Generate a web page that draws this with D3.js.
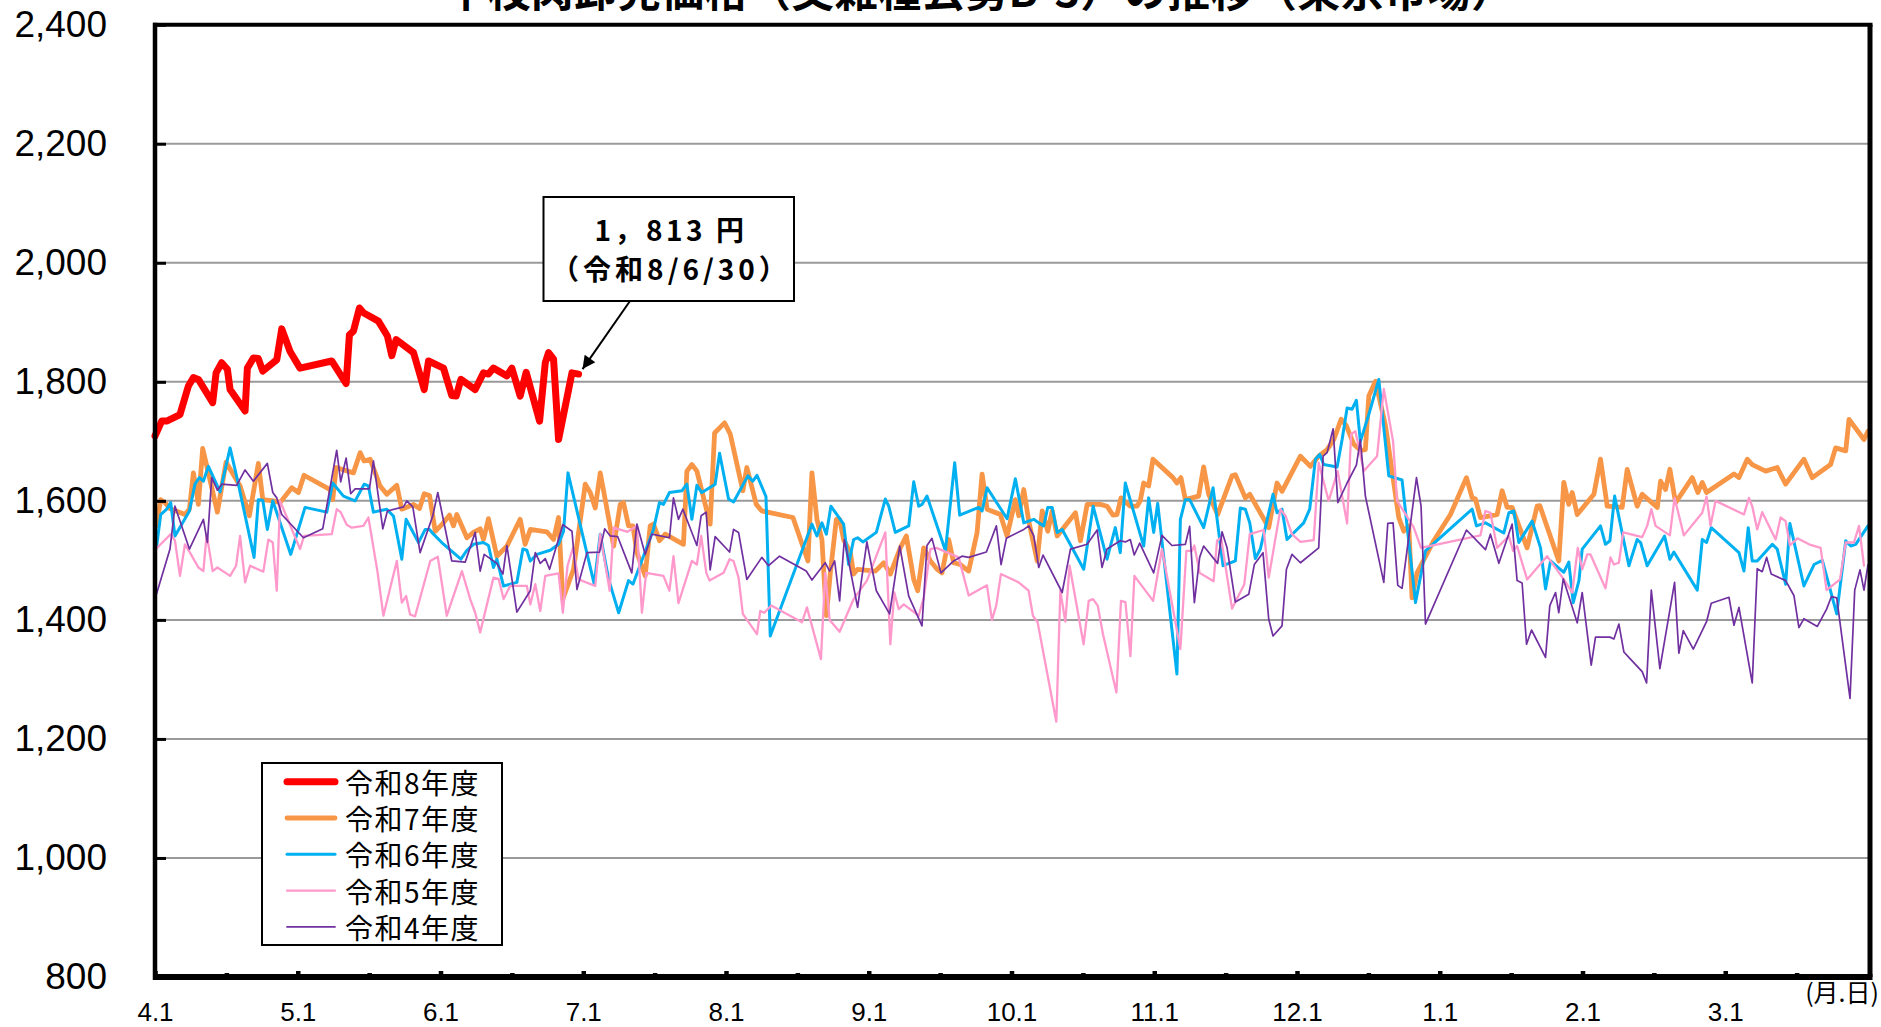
<!DOCTYPE html>
<html>
<head>
<meta charset="utf-8">
<title>牛枝肉卸売価格の推移</title>
<script src="https://cdn.jsdelivr.net/npm/d3@7"></script>
<style>
  body { margin: 0; background: #fff; }
  svg { display: block; }
  .jp { font-family: "Noto Sans CJK JP", "Noto Sans", sans-serif; }
</style>
</head>
<body>
<script>
// x軸ラベル（月.日）と y軸目盛
var monthLabels = ["4.1","5.1","6.1","7.1","8.1","9.1","10.1","11.1","12.1","1.1","2.1","3.1"];
var yTicks = [800,1000,1200,1400,1600,1800,2000,2200,2400];
var seriesNames = ["令和8年度","令和7年度","令和6年度","令和5年度","令和4年度"];

// [4/1からの経過月, 円]
var r8 = [[0,1709],[0.047,1734],[0.082,1734],[0.175,1745],[0.234,1793],[0.269,1807],[0.304,1804],[0.404,1765],[0.428,1815],[0.467,1832],[0.507,1821],[0.526,1787],[0.631,1751],[0.647,1823],[0.689,1840],[0.724,1839],[0.755,1818],[0.853,1837],[0.888,1889],[0.946,1851],[1.016,1823],[1.238,1835],[1.339,1797],[1.362,1879],[1.39,1885],[1.432,1924],[1.46,1916],[1.565,1902],[1.628,1877],[1.659,1844],[1.689,1871],[1.811,1849],[1.886,1787],[1.916,1835],[2.021,1823],[2.079,1777],[2.11,1776],[2.143,1804],[2.243,1787],[2.301,1815],[2.336,1813],[2.371,1823],[2.465,1810],[2.5,1823],[2.558,1776],[2.6,1816],[2.694,1734],[2.734,1832],[2.757,1849],[2.792,1838],[2.827,1703],[2.921,1815],[2.967,1813]];

var r7 = [[0.01,1558],[0.04,1602],[0.07,1597],[0.105,1587],[0.21,1577],[0.241,1586],[0.269,1647],[0.304,1594],[0.334,1688],[0.374,1647],[0.437,1581],[0.498,1665],[0.596,1625],[0.661,1575],[0.724,1663],[0.755,1602],[0.829,1600],[0.876,1597],[0.958,1622],[1.005,1614],[1.044,1643],[1.227,1619],[1.245,1602],[1.269,1656],[1.39,1647],[1.437,1681],[1.465,1667],[1.507,1670],[1.577,1625],[1.624,1611],[1.694,1626],[1.729,1586],[1.811,1594],[1.853,1587],[1.886,1612],[1.923,1609],[1.963,1549],[2.009,1560],[2.063,1576],[2.091,1558],[2.114,1577],[2.185,1538],[2.231,1547],[2.278,1553],[2.301,1535],[2.336,1570],[2.395,1507],[2.465,1524],[2.558,1569],[2.593,1527],[2.629,1552],[2.745,1548],[2.792,1535],[2.827,1572],[2.857,1435],[2.932,1485],[3.014,1628],[3.049,1614],[3.084,1588],[3.119,1647],[3.154,1602],[3.213,1524],
  [3.259,1594],[3.282,1597],[3.317,1558],[3.348,1558],[3.376,1513],[3.434,1474],[3.469,1558],[3.492,1561],[3.534,1533],[3.574,1544],[3.702,1527],[3.726,1650],[3.761,1661],[3.796,1650],[3.889,1561],[3.92,1714],[3.99,1731],[4.03,1712],[4.118,1617],[4.146,1656],[4.212,1594],[4.251,1583],[4.469,1572],[4.574,1499],[4.602,1647],[4.637,1569],[4.672,1535],[4.703,1407],[4.731,1479],[4.773,1569],[4.796,1569],[4.824,1535],[4.871,1513],[4.894,1477],[4.922,1485],[5.046,1482],[5.105,1496],[5.151,1477],[5.221,1521],[5.263,1541],[5.291,1502],[5.315,1468],[5.343,1449],[5.385,1521],[5.432,1499],[5.479,1485],[5.513,1479],[5.56,1535],[5.595,1496],[5.642,1493],[5.7,1482],[5.759,1547],[5.794,1645],[5.829,1586],[5.922,1577],[5.969,1541],[6.027,1602],[6.051,1575],[6.086,1619],[6.121,1566],[6.18,1499],[6.215,1583],[6.254,1549],[6.285,1583],[6.32,1541],[6.448,1580],[6.483,1533],[6.53,1594],
  [6.622,1594],[6.669,1591],[6.711,1576],[6.739,1577],[6.767,1605],[6.832,1591],[6.879,1591],[6.902,1600],[6.926,1630],[6.961,1625],[6.991,1670],[7.131,1639],[7.159,1630],[7.187,1639],[7.218,1602],[7.311,1608],[7.346,1657],[7.381,1611],[7.444,1577],[7.545,1642],[7.568,1644],[7.638,1605],[7.669,1611],[7.802,1555],[7.86,1630],[7.895,1616],[8.024,1675],[8.094,1658],[8.152,1675],[8.211,1686],[8.258,1703],[8.309,1737],[8.346,1726],[8.398,1695],[8.444,1685],[8.479,1686],[8.503,1776],[8.55,1801],[8.62,1726],[8.678,1630],[8.713,1572],[8.748,1549],[8.783,1558],[8.806,1437],[8.841,1479],[8.958,1533],
  [9.075,1577],[9.187,1639],[9.227,1605],[9.25,1603],[9.285,1572],[9.402,1577],[9.437,1617],[9.472,1589],[9.507,1589],[9.612,1521],[9.682,1591],[9.701,1592],[9.834,1499],[9.869,1631],[9.904,1594],[9.928,1614],[9.963,1577],[10.08,1611],[10.126,1670],[10.173,1591],[10.278,1589],[10.313,1653],[10.383,1591],[10.418,1611],[10.524,1589],[10.547,1633],[10.582,1619],[10.612,1653],[10.652,1597],[10.769,1639],[10.808,1614],[10.839,1631],[10.869,1614],[11.061,1645],[11.096,1639],[11.154,1670],[11.189,1661],[11.283,1650],[11.364,1656],[11.423,1628],[11.551,1670],[11.61,1639],[11.738,1661],[11.773,1689],[11.844,1684],[11.867,1737],[11.972,1703],[12,1717]];

var r6 = [[0.01,1521],[0.04,1577],[0.082,1586],[0.11,1597],[0.14,1541],[0.241,1583],[0.28,1628],[0.311,1639],[0.339,1633],[0.374,1658],[0.456,1615],[0.526,1689],[0.584,1628],[0.694,1505],[0.724,1602],[0.755,1601],[0.787,1552],[0.825,1600],[0.951,1510],[1.051,1589],[1.203,1581],[1.245,1630],[1.32,1608],[1.402,1600],[1.465,1628],[1.495,1625],[1.53,1581],[1.624,1586],[1.671,1574],[1.729,1502],[1.759,1569],[1.846,1530],[1.893,1552],[1.923,1552],[1.951,1544],[2.009,1530],[2.143,1502],[2.185,1517],[2.231,1527],[2.301,1530],[2.336,1525],[2.371,1488],[2.395,1502],[2.441,1457],[2.535,1463],[2.577,1519],[2.605,1517],[2.629,1499],[2.675,1510],[2.769,1517],[2.827,1527],[2.862,1549],[2.893,1647],[3.077,1460],[3.119,1544],[3.178,1468],[3.248,1412],
  [3.317,1466],[3.348,1460],[3.492,1552],[3.534,1597],[3.562,1594],[3.604,1614],[3.691,1617],[3.726,1628],[3.761,1569],[3.796,1626],[3.831,1614],[3.924,1628],[3.955,1680],[4.018,1603],[4.053,1598],[4.153,1642],[4.188,1633],[4.217,1643],[4.28,1607],[4.31,1373],[4.602,1561],[4.637,1541],[4.672,1563],[4.703,1544],[4.735,1591],[4.824,1561],[4.859,1493],[4.894,1535],[4.922,1538],[4.959,1531],[5.053,1547],[5.116,1603],[5.14,1591],[5.186,1547],[5.28,1558],[5.315,1632],[5.35,1591],[5.373,1594],[5.408,1608],[5.537,1516],[5.602,1664],[5.637,1576],[5.77,1589],[5.794,1583],[5.829,1622],[5.969,1570],[6.027,1637],[6.086,1563],[6.121,1566],[6.156,1569],[6.191,1563],[6.226,1558],[6.254,1589],[6.285,1589],[6.32,1547],[6.355,1552],[6.506,1485],[6.572,1591],
  [6.669,1502],[6.727,1555],[6.762,1513],[6.797,1630],[6.926,1524],[6.961,1605],[6.996,1547],[7.024,1596],[7.159,1309],[7.183,1569],[7.218,1602],[7.248,1602],[7.346,1555],[7.412,1622],[7.482,1491],[7.568,1499],[7.603,1588],[7.638,1586],[7.669,1563],[7.708,1503],[7.743,1519],[7.832,1611],[7.86,1580],[7.895,1586],[7.93,1535],[8.047,1563],[8.089,1586],[8.129,1670],[8.159,1678],[8.187,1661],[8.281,1657],[8.316,1703],[8.351,1756],[8.386,1754],[8.416,1769],[8.444,1700],[8.503,1745],[8.573,1804],[8.643,1642],[8.736,1635],[8.83,1429],[8.9,1516],
  [9.227,1586],[9.257,1558],[9.32,1563],[9.449,1546],[9.484,1580],[9.519,1583],[9.554,1530],[9.647,1566],[9.706,1521],[9.741,1452],[9.776,1499],[9.869,1480],[9.904,1497],[9.935,1429],[9.975,1466],[9.998,1519],[10.126,1558],[10.161,1527],[10.192,1533],[10.225,1608],[10.325,1491],[10.383,1535],[10.407,1530],[10.453,1491],[10.575,1541],[10.612,1502],[10.64,1514],[10.804,1450],[10.839,1535],[10.869,1530],[10.902,1555],[11.096,1513],[11.131,1482],[11.161,1555],[11.189,1499],[11.224,1499],[11.33,1527],[11.364,1519],[11.423,1460],[11.453,1562],[11.551,1457],[11.622,1493],[11.68,1500],[11.781,1410],[11.844,1533],[11.879,1524],[11.914,1527],[12,1558]];

var r5 = [[0.01,1520],[0.11,1544],[0.14,1533],[0.175,1474],[0.21,1527],[0.245,1513],[0.304,1488],[0.339,1482],[0.362,1544],[0.404,1482],[0.437,1488],[0.526,1474],[0.568,1491],[0.596,1541],[0.631,1463],[0.666,1491],[0.759,1481],[0.794,1535],[0.825,1530],[0.853,1449],[0.876,1600],[1.016,1519],[1.044,1541],[1.238,1544],[1.273,1586],[1.301,1581],[1.343,1560],[1.379,1555],[1.46,1558],[1.495,1572],[1.558,1482],[1.6,1407],[1.694,1499],[1.729,1429],[1.759,1440],[1.787,1409],[1.822,1406],[1.928,1499],[1.981,1506],[2.044,1407],[2.15,1482],[2.208,1435],[2.243,1412],[2.278,1379],[2.371,1471],[2.407,1469],[2.442,1435],[2.488,1457],[2.605,1457],[2.629,1426],[2.664,1460],[2.699,1415],[2.734,1474],[2.827,1478],[2.857,1412],[2.89,1491],[2.928,1521],[2.967,1468],[3.084,1457],[3.119,1544],[3.185,1449],[3.213,1555],
  [3.31,1548],[3.376,1558],[3.411,1412],[3.441,1479],[3.562,1474],[3.604,1449],[3.632,1507],[3.667,1428],[3.761,1499],[3.796,1493],[3.826,1541],[3.862,1479],[3.885,1466],[3.983,1479],[4.025,1502],[4.053,1499],[4.088,1471],[4.118,1410],[4.217,1376],[4.24,1415],[4.268,1412],[4.317,1424],[4.532,1396],[4.567,1421],[4.665,1334],[4.695,1479],[4.726,1400],[4.796,1380],[4.894,1435],[4.987,1466],[5.116,1547],[5.151,1359],[5.179,1446],[5.21,1418],[5.245,1426],[5.35,1407],[5.385,1437],[5.432,1519],[5.474,1521],[5.63,1505],
  [5.7,1441],[5.828,1458],[5.863,1400],[5.893,1424],[5.926,1477],[6.05,1463],[6.12,1449],[6.15,1407],[6.183,1396],[6.314,1229],[6.342,1449],[6.377,1397],[6.407,1491],[6.505,1359],[6.541,1432],[6.571,1435],[6.604,1424],[6.641,1376],[6.735,1278],[6.767,1432],[6.798,1430],[6.833,1339],[6.861,1474],[6.992,1432],
  [7.054,1519],[7.183,1351],[7.225,1516],[7.265,1516],[7.281,1525],[7.318,1479],[7.416,1465],[7.44,1533],[7.468,1538],[7.545,1419],[7.631,1460],[7.669,1544],[7.767,1551],[7.802,1471],[7.884,1586],[7.919,1575],[7.965,1544],[8.024,1531],[8.117,1534],[8.152,1664],[8.222,1600],[8.285,1650],[8.351,1562],[8.379,1712],[8.409,1717],[8.468,1650],[8.561,1675],[8.608,1788],[8.673,1700],[8.701,1600],[8.767,1575],[8.818,1555],[8.869,1521],
  [9.285,1542],[9.32,1583],[9.355,1580],[9.402,1521],[9.484,1541],[9.514,1516],[9.542,1524],[9.612,1468],[9.752,1507],[9.869,1468],[9.928,1446],[9.967,1521],[9.998,1485],[10.033,1510],[10.056,1510],[10.161,1453],[10.196,1505],[10.22,1493],[10.255,1496],[10.285,1547],[10.418,1539],[10.453,1558],[10.482,1586],[10.512,1558],[10.612,1542],[10.645,1605],[10.71,1542],[10.839,1580],[10.869,1607],[10.897,1558],[10.932,1600],[11.131,1577],[11.166,1605],[11.189,1591],[11.224,1552],[11.259,1581],[11.353,1535],[11.388,1572],[11.423,1566],[11.453,1525],[11.505,1537],[11.587,1527],[11.668,1521],[11.71,1450],[11.804,1468],[11.844,1530],[11.902,1530],[11.937,1558],[11.972,1491]];

var r4 = [[0.01,1443],[0.105,1519],[0.14,1591],[0.241,1519],[0.339,1569],[0.367,1530],[0.397,1639],[0.437,1618],[0.467,1628],[0.572,1626],[0.631,1652],[0.689,1633],[0.787,1663],[0.825,1614],[0.853,1605],[0.888,1577],[1.04,1538],[1.175,1553],[1.273,1685],[1.301,1632],[1.339,1672],[1.371,1612],[1.402,1620],[1.502,1620],[1.53,1667],[1.596,1553],[1.628,1583],[1.741,1590],[1.764,1600],[1.806,1590],[1.857,1513],[1.946,1575],[1.981,1614],[2.079,1499],[2.173,1497],[2.243,1547],[2.278,1482],[2.306,1510],[2.395,1495],[2.437,1477],[2.465,1525],[2.535,1413],[2.629,1449],[2.664,1513],[2.699,1495],[2.734,1503],[2.764,1485],[2.857,1560],[2.921,1549],[2.956,1451],[3.026,1513],[3.114,1514],[3.15,1553],[3.189,1541],[3.241,1540],
  [3.34,1479],[3.376,1561],[3.434,1510],[3.481,1544],[3.604,1538],[3.632,1605],[3.667,1569],[3.698,1586],[3.796,1525],[3.826,1575],[3.861,1581],[3.889,1484],[3.924,1540],[4.025,1514],[4.053,1552],[4.088,1547],[4.146,1468],[4.251,1505],[4.298,1491],[4.375,1507],[4.562,1482],[4.602,1467],[4.695,1496],[4.726,1482],[4.761,1499],[4.796,1432],[4.829,1535],[4.922,1421],[4.987,1531],[5.053,1449],[5.146,1410],[5.217,1524],[5.28,1440],[5.373,1390],[5.408,1525],[5.443,1537],[5.506,1479],[5.595,1499],[5.653,1507],[5.7,1505],[5.824,1514],[5.894,1558],[5.927,1493],[5.964,1537],[6.086,1552],[6.121,1558],[6.156,1541],[6.191,1488],[6.221,1509],[6.355,1446],[6.413,1519],[6.53,1527],[6.6,1551],
  [6.634,1488],[6.669,1519],[6.762,1533],[6.797,1531],[6.832,1535],[6.86,1509],[6.898,1529],[6.996,1479],[7.054,1542],[7.124,1525],[7.218,1527],[7.248,1557],[7.281,1429],[7.318,1505],[7.346,1524],[7.444,1495],[7.475,1548],[7.51,1521],[7.568,1430],[7.662,1443],[7.701,1493],[7.762,1513],[7.802,1401],[7.832,1373],[7.895,1390],[7.926,1485],[7.965,1510],[8.024,1496],[8.152,1521],[8.183,1675],[8.211,1681],[8.253,1721],[8.286,1597],[8.351,1630],[8.416,1660],[8.444,1703],[8.479,1608],[8.608,1463],[8.636,1562],[8.673,1563],[8.706,1458],[8.736,1453],[8.837,1639],[8.869,1591],[8.9,1393],
  [9.187,1551],[9.32,1518],[9.355,1544],[9.414,1495],[9.507,1561],[9.542,1466],[9.577,1462],[9.608,1359],[9.643,1383],[9.741,1337],[9.771,1424],[9.811,1446],[9.834,1412],[9.865,1469],[9.963,1395],[9.998,1446],[10.061,1324],[10.091,1371],[10.192,1371],[10.22,1368],[10.255,1393],[10.29,1346],[10.336,1334],[10.418,1313],[10.449,1294],[10.482,1450],[10.542,1318],[10.645,1463],[10.675,1344],[10.706,1382],[10.776,1351],[10.869,1397],[10.902,1428],[11.026,1438],[11.061,1391],[11.096,1421],[11.189,1294],[11.224,1486],[11.259,1481],[11.29,1505],[11.322,1477],[11.423,1466],[11.481,1441],[11.516,1387],[11.551,1402],[11.645,1389],[11.71,1418],[11.743,1439],[11.781,1437],[11.874,1268],[11.907,1450],[11.944,1484],[11.972,1450],[12,1493]];

var seriesData = [r8, r7, r6, r5, r4];
var colors = ["#ff0000", "#f79646", "#00b0f0", "#ff99cc", "#7030a0"];
var widths = [7, 4.8, 3, 2.3, 1.7];

var width = 1881, height = 1027;
var plot = {left: 155, right: 1868, top: 24.7, bottom: 977};

var svg = d3.select("body").append("svg")
    .attr("width", width)
    .attr("height", height);

var x = d3.scaleLinear().domain([0, 12]).range([plot.left, plot.right]);
var y = d3.scaleLinear().domain([800, 2400]).range([plot.bottom, plot.top]);

// タイトル（上端で切れている）
svg.append("text")
    .attr("class", "jp")
    .attr("x", 979).attr("y", 7)
    .attr("text-anchor", "middle")
    .attr("font-size", 43).attr("font-weight", "bold")
    .attr("textLength", 1070)
    .attr("lengthAdjust", "spacing")
    .text("牛枝肉卸売価格（交雑種去勢B-3）の推移（東京市場）");

// 目盛線
svg.append("g").selectAll("line")
    .data(yTicks.slice(1, -1))
    .enter().append("line")
    .attr("x1", plot.left).attr("x2", plot.right + 2)
    .attr("y1", function(d){ return y(d); })
    .attr("y2", function(d){ return y(d); })
    .attr("stroke", "#9a9a9a")
    .attr("stroke-width", 2);

// 系列
var line = d3.line()
    .x(function(d){ return x(d[0]); })
    .y(function(d){ return y(d[1]); });

svg.append("g").selectAll("path")
    .data(seriesData)
    .enter().append("path")
    .attr("d", line)
    .attr("fill", "none")
    .attr("stroke", function(d, i){ return colors[i]; })
    .attr("stroke-width", function(d, i){ return widths[i]; })
    .attr("stroke-linejoin", "round")
    .attr("stroke-linecap", "round");

// 枠
svg.append("line").attr("x1", plot.left - 2).attr("x2", 1872.5).attr("y1", plot.top).attr("y2", plot.top).attr("stroke", "#000").attr("stroke-width", 4);
svg.append("line").attr("x1", 1870).attr("x2", 1870).attr("y1", plot.top).attr("y2", plot.bottom).attr("stroke", "#000").attr("stroke-width", 5);
svg.append("line").attr("x1", plot.left).attr("x2", plot.left).attr("y1", plot.top - 2).attr("y2", plot.bottom + 3).attr("stroke", "#000").attr("stroke-width", 4.5);
svg.append("line").attr("x1", plot.left - 2).attr("x2", 1872.5).attr("y1", plot.bottom).attr("y2", plot.bottom).attr("stroke", "#000").attr("stroke-width", 6);

// y軸
var yAxis = d3.axisLeft(y)
    .tickValues(yTicks)
    .tickSize(-11)
    .tickPadding(48)
    .tickFormat(d3.format(","));
var gy = svg.append("g")
    .attr("transform", "translate(" + plot.left + ",0)")
    .call(yAxis);
gy.select(".domain").remove();
gy.selectAll("line").attr("stroke", "#000").attr("stroke-width", 3);
gy.selectAll("text")
    .style("font-family", "'Liberation Sans', Arial, sans-serif")
    .style("font-size", "37px")
    .attr("fill", "#000");

// x軸（月の目盛と半月の目盛）
var xAxis = d3.axisBottom(x)
    .tickValues(d3.range(0, 12))
    .tickSize(-6)
    .tickPadding(26)
    .tickFormat(function(d, i){ return monthLabels[i]; });
var gx = svg.append("g")
    .attr("transform", "translate(0," + plot.bottom + ")")
    .call(xAxis);
gx.select(".domain").remove();
gx.selectAll("line").attr("stroke", "#000").attr("stroke-width", 4.5);
gx.selectAll("text")
    .style("font-family", "'Liberation Sans', Arial, sans-serif")
    .style("font-size", "26px")
    .attr("fill", "#000");

var gx2 = svg.append("g")
    .attr("transform", "translate(0," + plot.bottom + ")")
    .call(d3.axisBottom(x).tickValues(d3.range(0.5, 12, 1)).tickSize(-4).tickFormat(""));
gx2.select(".domain").remove();
gx2.selectAll("line").attr("stroke", "#000").attr("stroke-width", 4.5);

svg.append("text")
    .attr("class", "jp")
    .attr("x", 1879).attr("y", 991)
    .attr("text-anchor", "end")
    .attr("dominant-baseline", "central")
    .attr("font-size", 25)
    .text("(月.日)");

// 凡例
var legend = svg.append("g").attr("transform", "translate(262,763)");
legend.append("rect")
    .attr("width", 240).attr("height", 182)
    .attr("fill", "#fff").attr("stroke", "#000").attr("stroke-width", 2);
var items = legend.selectAll("g.item")
    .data(seriesNames)
    .enter().append("g")
    .attr("class", "item")
    .attr("transform", function(d, i){ return "translate(0," + (18.7 + i * 36.3) + ")"; });
items.append("line")
    .attr("x1", 25).attr("x2", 73)
    .attr("stroke", function(d, i){ return colors[i]; })
    .attr("stroke-width", function(d, i){ return widths[i]; })
    .attr("stroke-linecap", "round");
items.append("text")
    .attr("class", "jp")
    .attr("x", 83)
    .attr("dominant-baseline", "central")
    .attr("font-size", 28)
    .attr("letter-spacing", 1.5)
    .text(function(d){ return d; });

// 最新値の注記
var last = r8[r8.length - 1];
var defs = svg.append("defs");
defs.append("marker")
    .attr("id", "arrow")
    .attr("viewBox", "0 0 10 10")
    .attr("refX", 10).attr("refY", 5)
    .attr("markerWidth", 16).attr("markerHeight", 13)
    .attr("markerUnits", "userSpaceOnUse")
    .attr("orient", "auto")
    .append("path").attr("d", "M0,0L10,5L0,10z").attr("fill", "#000");
svg.append("line")
    .attr("x1", 630).attr("y1", 301)
    .attr("x2", x(last[0]) + 4).attr("y2", y(last[1]) - 5)
    .attr("stroke", "#000").attr("stroke-width", 2)
    .attr("marker-end", "url(#arrow)");
svg.append("rect")
    .attr("x", 543.5).attr("y", 197)
    .attr("width", 250.5).attr("height", 104)
    .attr("fill", "#fff").attr("stroke", "#000").attr("stroke-width", 2);
svg.append("text")
    .attr("class", "jp")
    .attr("x", 671).attr("y", 229)
    .attr("text-anchor", "middle")
    .attr("dominant-baseline", "central")
    .attr("font-size", 28).attr("font-weight", "bold")
    .attr("letter-spacing", 3.5)
    .text("1，" + d3.format("d")(last[1] % 1000) + " 円");
svg.append("text")
    .attr("class", "jp")
    .attr("x", 671).attr("y", 268)
    .attr("text-anchor", "middle")
    .attr("dominant-baseline", "central")
    .attr("font-size", 28).attr("font-weight", "bold")
    .attr("letter-spacing", 4)
    .text("（令和8/6/30）");
</script>
</body>
</html>
